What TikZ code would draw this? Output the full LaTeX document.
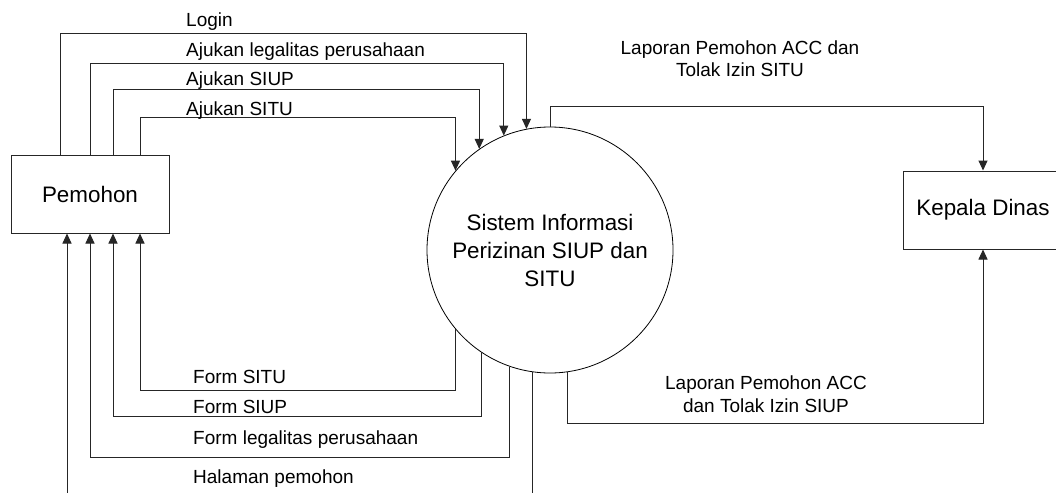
\documentclass[tikz,border=0pt]{standalone}
\usepackage{fontspec}
\setmainfont{Liberation Sans}
\usetikzlibrary{arrows.meta,calc}
\begin{document}
\begin{tikzpicture}[x=1pt,y=-1pt,
  ent/.style={draw=black!85, line width=1pt, rectangle, minimum width=158pt, minimum height=78pt, inner sep=0pt, font=\fontsize{22.4}{28}\selectfont},
  proc/.style={draw=black, line width=0.8pt, circle, minimum size=246pt, inner sep=0pt, align=center, font=\fontsize{22.4}{28}\selectfont},
  lbl/.style={inner sep=0pt, font=\fontsize{19}{22}\selectfont},
  flow/.style={draw=black!85, line width=1pt, -{Triangle[length=10pt,width=9pt]}}]
\useasboundingbox[fill=white] (0,0) rectangle (1056,492);

\node[ent] (pem) at (90,194) {Pemohon};
\node[proc] (sis) at (550,250) {Sistem Informasi\\Perizinan SIUP dan\\SITU};
\node[ent, minimum width=160pt] (kd) at (983,210) {Kepala Dinas};

% requests from Pemohon
\draw[flow] ([xshift=-30pt]pem.north) -- ++(0,-121) -| (sis.101.7);
\draw[flow] (pem.north) -- ++(0,-91) -| (sis.112.5);
\draw[flow] ([xshift=23pt]pem.north) -- ++(0,-65) -| (sis.125.3);
\draw[flow] ([xshift=50pt]pem.north) -- ++(0,-37) -| (sis.140.6);

\node[lbl, anchor=base west] (t1) at (186,27) {Login};
\node[lbl, anchor=base west] (t2) at (186,57) {Ajukan legalitas perusahaan};
\node[lbl, anchor=base west] (t3) at (186,86) {Ajukan SIUP};
\node[lbl, anchor=base west] (t4) at (186,115) {Ajukan SITU};

% responses to Pemohon
\draw[flow] (sis.220.9) -- ++(0,61.5) -| ([xshift=50pt]pem.south);
\draw[flow] (sis.236.4) -- ++(0,64.5) -| ([xshift=23pt]pem.south);
\draw[flow] (sis.251) -- ++(0,90.7) -| (pem.south);
\draw[flow] (sis.262.5) -- ++(0,128) -| ([xshift=-23pt]pem.south);

\node[lbl, anchor=base west] (b1) at (193,383) {Form SITU};
\node[lbl, anchor=base west] (b2) at (193,413) {Form SIUP};
\node[lbl, anchor=base west] (b3) at (193,444) {Form legalitas perusahaan};
\node[lbl, anchor=base west] (b4) at (193,483) {Halaman pemohon};

% reports to Kepala Dinas
\draw[flow] (sis.north) -- ++(0,-20) -| (kd.north);
\draw[flow] (sis.278.4) -- ++(0,51.3) -| (kd.south);

\node[lbl, align=center] (r1) at (740,59.2) {Laporan Pemohon ACC dan\\Tolak Izin SITU};
\node[lbl, align=center, font=\fontsize{19}{23}\selectfont] (r2) at (766,394.7) {Laporan Pemohon ACC\\dan Tolak Izin SIUP};
\end{tikzpicture}
\end{document}
